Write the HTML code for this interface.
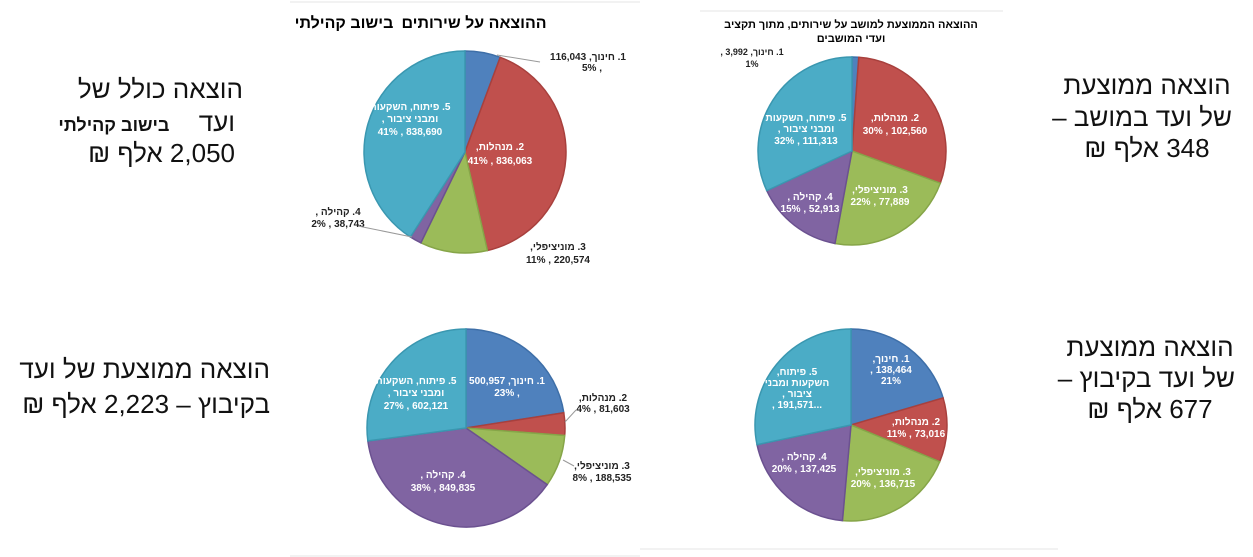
<!DOCTYPE html>
<html><head><meta charset="utf-8">
<style>
html,body{margin:0;padding:0;background:#fff;}
body{width:1253px;height:557px;position:relative;overflow:hidden;font-family:"Liberation Sans","Noto Sans CJK SC",sans-serif;}
.t{position:absolute;direction:rtl;font-size:26px;color:#111;line-height:30px;white-space:nowrap;}
svg{position:absolute;left:0;top:0;}
svg text{font-family:"Liberation Sans","Noto Sans CJK SC",sans-serif;font-weight:bold;font-size:10px;direction:rtl;unicode-bidi:embed;text-anchor:middle;}
svg text.n{direction:ltr;}
</style></head><body>
<div class="t" style="right:1010px;top:74px;">הוצאה כולל של</div>
<div class="t" style="right:1018px;top:107px;">ועד <b style="font-size:18px;margin-right:22px">בישוב קהילתי</b></div>
<div class="t" style="right:1018px;top:138px;">2,050 אלף ₪</div>

<div class="t" style="left:1062px;width:170px;text-align:center;top:70px;">הוצאה ממוצעת</div>
<div class="t" style="left:1062px;width:170px;text-align:center;top:102px;">של ועד במושב –</div>
<div class="t" style="left:1062px;width:170px;text-align:center;top:133px;">348 אלף ₪</div>

<div class="t" style="right:983px;top:354px;">הוצאה ממוצעת של ועד</div>
<div class="t" style="right:983px;top:389px;">בקיבוץ – 2,223 אלף ₪</div>

<div class="t" style="left:1065px;width:170px;text-align:center;top:332px;">הוצאה ממוצעת</div>
<div class="t" style="left:1065px;width:170px;text-align:center;top:363px;">של ועד בקיבוץ –</div>
<div class="t" style="left:1065px;width:170px;text-align:center;top:394px;">677 אלף ₪</div>

<svg width="1253" height="557" id="s">
<line x1="290" y1="2" x2="640" y2="2" stroke="#e4e4e4"/>
<line x1="700" y1="11" x2="1003" y2="11" stroke="#e4e4e4"/>
<line x1="290" y1="556" x2="640" y2="556" stroke="#e4e4e4"/>
<line x1="640" y1="549" x2="1058" y2="549" stroke="#e4e4e4"/>
<g id="pies"></g>
<text x="474" y="28" style="font-size:16px">ההוצאה על שירותים</text>
<text x="344" y="28" style="font-size:16px">בישוב קהילתי</text>
<text x="851" y="28" style="font-size:11px">ההוצאה הממוצעת למושב על שירותים, מתוך תקציב</text>
<text x="851" y="42" style="font-size:11px">ועדי המושבים</text>
<!-- TL labels -->
<text x="588" y="60" fill="#222">1. חינוך,  116,043</text>
<text class="n" x="592" y="71" fill="#222">5% ,</text>
<text x="500" y="150" fill="#fff">2. מנהלות,</text>
<text class="n" x="500" y="164" fill="#fff">41% , 836,063</text>
<text x="410" y="110" fill="#fff">5. פיתוח, השקעות</text>
<text x="410" y="122" fill="#fff">ומבני ציבור ,</text>
<text class="n" x="410" y="135" fill="#fff">41% , 838,690</text>
<text x="338" y="215" fill="#222">4. קהילה ,</text>
<text class="n" x="338" y="227" fill="#222">2% , 38,743</text>
<text x="558" y="250" fill="#222">3. מוניציפלי,</text>
<text class="n" x="558" y="263" fill="#222">11% , 220,574</text>
<line x1="540" y1="62" x2="497" y2="55" stroke="#999"/>
<line x1="358" y1="226" x2="412" y2="237" stroke="#999"/>
<!-- TR labels -->
<text x="752" y="55" fill="#222" style="font-size:9px">1. חינוך,  3,992 ,</text>
<text class="n" x="752" y="67" fill="#222" style="font-size:9px">1%</text>
<text x="895" y="121" fill="#fff">2. מנהלות,</text>
<text class="n" x="895" y="134" fill="#fff">30% , 102,560</text>
<text x="806" y="121" fill="#fff">5. פיתוח, השקעות</text>
<text x="806" y="132" fill="#fff">ומבני ציבור ,</text>
<text class="n" x="806" y="144" fill="#fff">32% , 111,313</text>
<text x="810" y="200" fill="#fff">4. קהילה ,</text>
<text class="n" x="810" y="212" fill="#fff">15% , 52,913</text>
<text x="880" y="193" fill="#fff">3. מוניציפלי,</text>
<text class="n" x="880" y="205" fill="#fff">22% , 77,889</text>
<!-- BL labels -->
<text x="507" y="384" fill="#fff">1. חינוך,  500,957</text>
<text class="n" x="507" y="396" fill="#fff">23% ,</text>
<text x="416" y="384" fill="#fff">5. פיתוח, השקעות</text>
<text x="416" y="396" fill="#fff">ומבני ציבור ,</text>
<text class="n" x="416" y="409" fill="#fff">27% , 602,121</text>
<text x="603" y="401" fill="#222">2. מנהלות,</text>
<text class="n" x="603" y="412" fill="#222">4% , 81,603</text>
<text x="602" y="469" fill="#222">3. מוניציפלי,</text>
<text class="n" x="602" y="481" fill="#222">8% , 188,535</text>
<text x="443" y="478" fill="#fff">4. קהילה ,</text>
<text class="n" x="443" y="491" fill="#fff">38% , 849,835</text>
<line x1="576" y1="410" x2="565" y2="422" stroke="#999"/>
<line x1="574" y1="466" x2="563" y2="460" stroke="#999"/>
<!-- BR labels -->
<text x="891" y="362" fill="#fff">1. חינוך,</text>
<text class="n" x="891" y="373" fill="#fff">, 138,464</text>
<text class="n" x="891" y="384" fill="#fff">21%</text>
<text x="797" y="375" fill="#fff">5. פיתוח,</text>
<text x="797" y="386" fill="#fff">השקעות ומבני</text>
<text x="797" y="397" fill="#fff">ציבור ,</text>
<text class="n" x="797" y="408" fill="#fff">, 191,571...</text>
<text x="916" y="425" fill="#fff">2. מנהלות,</text>
<text class="n" x="916" y="437" fill="#fff">11% , 73,016</text>
<text x="883" y="475" fill="#fff">3. מוניציפלי,</text>
<text class="n" x="883" y="487" fill="#fff">20% , 136,715</text>
<text x="804" y="460" fill="#fff">4. קהילה ,</text>
<text class="n" x="804" y="472" fill="#fff">20% , 137,425</text>
</svg>
<script>
var cols=["#4f81bd","#c0504d","#9bbb59","#8064a2","#4bacc6"];
var brd=["#3e6fa8","#a8403d","#86a548","#6b5190","#3a97b0"];
var pies=[
 [465,152,101,[116043,836063,220574,38743,838690]],
 [852,151,94,[3992,102560,77889,52913,111313]],
 [466,428,99,[500957,81603,188535,849835,602121]],
 [851,425,96,[138464,73016,136715,137425,191571]]
];
var g=document.getElementById("pies"),h="";
pies.forEach(function(p){
 var cx=p[0],cy=p[1],r=p[2],v=p[3],t=v.reduce(function(a,b){return a+b},0),a=0;
 v.forEach(function(x,i){
  var a2=a+x/t*2*Math.PI;
  var x1=cx+r*Math.sin(a),y1=cy-r*Math.cos(a),x2=cx+r*Math.sin(a2),y2=cy-r*Math.cos(a2);
  var l=(a2-a)>Math.PI?1:0;
  h+='<path d="M'+cx+','+cy+' L'+x1.toFixed(2)+','+y1.toFixed(2)+' A'+r+','+r+' 0 '+l+' 1 '+x2.toFixed(2)+','+y2.toFixed(2)+' Z" fill="'+cols[i]+'" stroke="'+brd[i]+'" stroke-width="1.5"/>';
  a=a2;
 });
});
g.innerHTML=h;
</script>
</body></html>
